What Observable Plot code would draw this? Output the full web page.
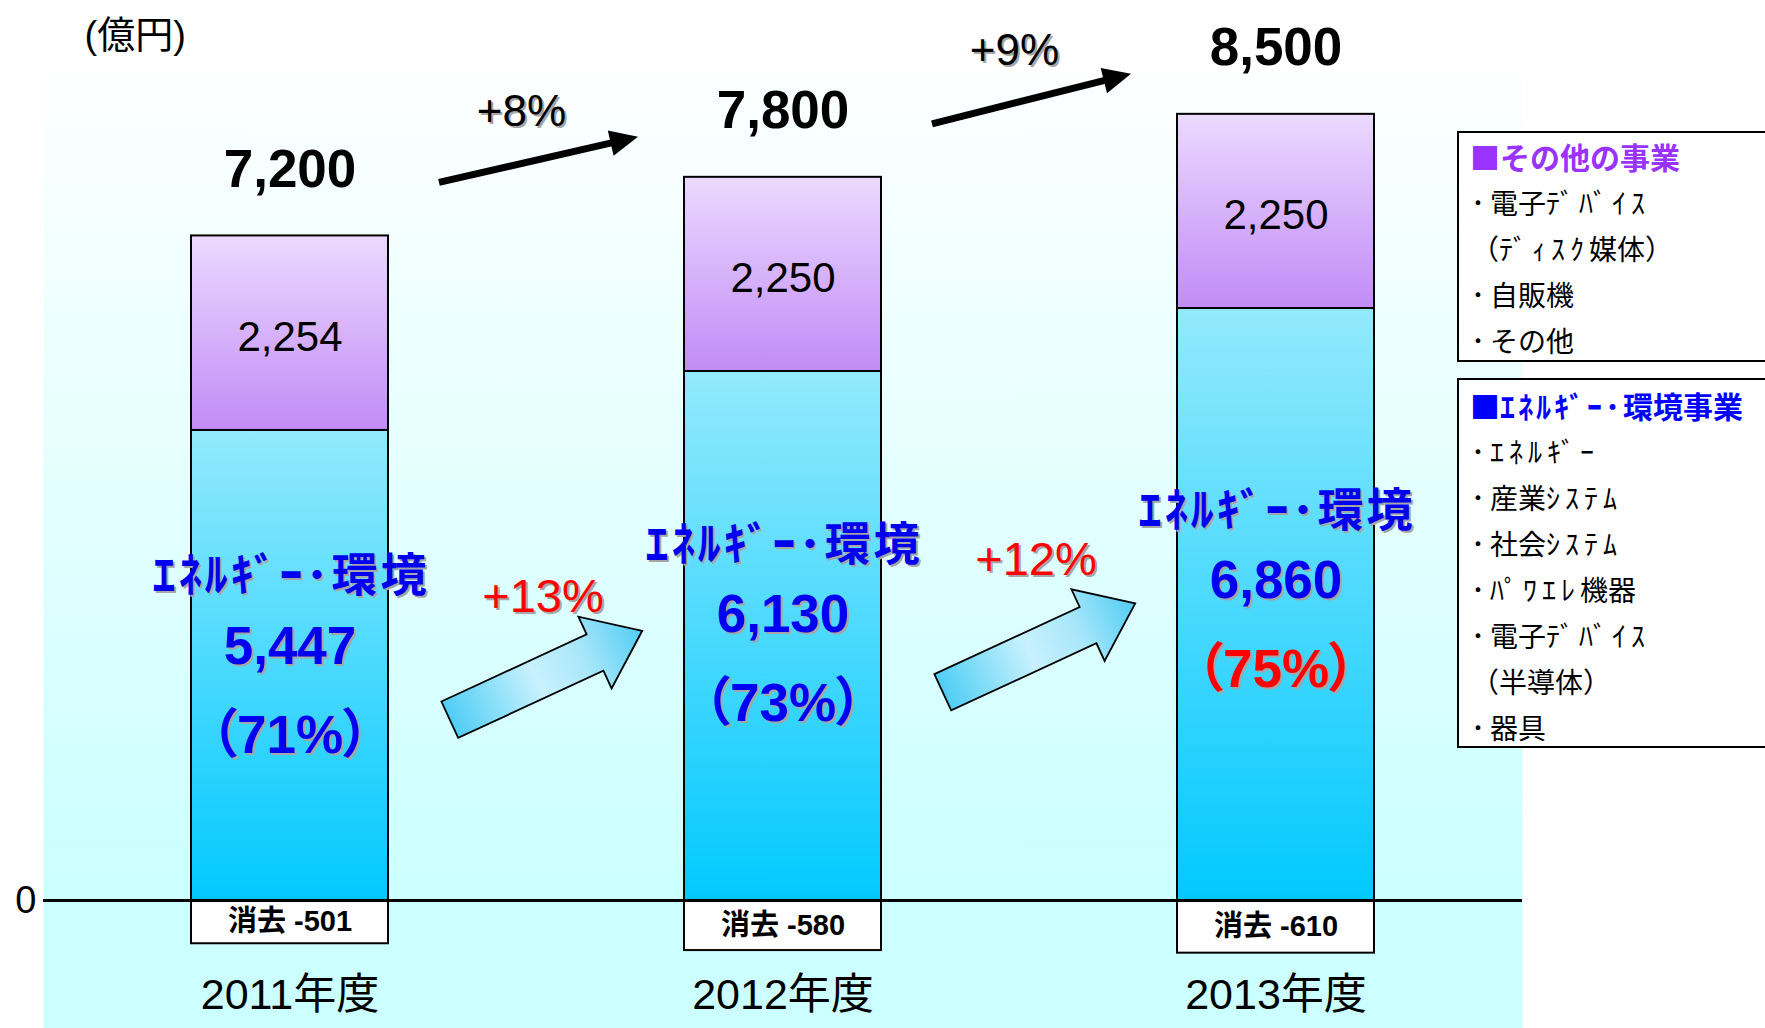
<!DOCTYPE html>
<html><head><meta charset="utf-8">
<script src="https://cdn.jsdelivr.net/npm/d3@7"></script>
<script src="https://cdn.jsdelivr.net/npm/@observablehq/plot@0.6"></script>
<style>
html,body{margin:0;padding:0;background:#fff;overflow:hidden;}
#wrap{position:relative;width:1765px;height:1028px;overflow:hidden;}
#wrap > svg{position:absolute;left:0;top:0;max-width:none;}
g[aria-description="pct"] text{font-feature-settings:"palt";}
g[aria-description="elabel"] text{letter-spacing:3px;}
.legend{position:absolute;left:1457px;width:340px;border:2px solid #000;background:#fff;box-sizing:border-box;font-family:'Noto Sans CJK JP',sans-serif;overflow:hidden;}
.legend div{line-height:46px;height:46px;white-space:nowrap;}
.legend .hd{font-weight:700;font-size:30px;padding-left:11px;}
.legend .hd .hw{letter-spacing:3px;}
.legend .it{font-size:28px;padding-left:12px;color:#000;}
.legend .it .hw{letter-spacing:5px;}
</style></head>
<body>
<svg width="0" height="0" style="position:absolute;left:0;top:0">
<defs>
<linearGradient id="bgGrad" x1="0" y1="0" x2="0" y2="1"><stop offset="0" stop-color="#fdffff"/><stop offset="0.85" stop-color="#ccffff"/><stop offset="1" stop-color="#ccffff"/></linearGradient>
<linearGradient id="blueGrad" x1="0" y1="0" x2="0" y2="1"><stop offset="0" stop-color="#93e9fc"/><stop offset="1" stop-color="#02c9ff"/></linearGradient>
<linearGradient id="purpleGrad" x1="0" y1="0" x2="0" y2="1"><stop offset="0" stop-color="#ebdaff"/><stop offset="1" stop-color="#c28bf6"/></linearGradient>
<linearGradient id="arrowGrad" x1="0" y1="0" x2="1" y2="0"><stop offset="0" stop-color="#4fcdf4"/><stop offset="0.45" stop-color="#c8f1fd"/><stop offset="0.7" stop-color="#a8e6fa"/><stop offset="1" stop-color="#4fcdf4"/></linearGradient>
</defs></svg>
<div id="wrap"></div>
<script>
// ---- data ----
const years = ["2011年度", "2012年度", "2013年度"];
const energyEnv = [5447, 6130, 6860];
const otherBiz = [2254, 2250, 2250];
const elimination = [-501, -580, -610];
const totals = [7200, 7800, 8500];
const energyShare = [71, 73, 75];
const totalGrowth = ["+8%", "+9%"];
const energyGrowth = ["+13%", "+12%"];
const unitLabel = "(億円)";
const energyLabel = "ｴﾈﾙｷﾞｰ･環境";
const elimLabel = "消去";
const highlightYear = "2013年度";
const otherHeader = "■その他の事業";
const otherItems = ["･電子ﾃﾞﾊﾞｲｽ", "（ﾃﾞｨｽｸ媒体）", "･自販機", "･その他"];
const energyHeader = "■ｴﾈﾙｷﾞｰ･環境事業";
const energyItems = ["･ｴﾈﾙｷﾞｰ", "･産業ｼｽﾃﾑ", "･社会ｼｽﾃﾑ", "･ﾊﾟﾜｴﾚ機器", "･電子ﾃﾞﾊﾞｲｽ", "（半導体）", "･器具"];

const FONT = "'Liberation Sans', Arial, 'Noto Sans CJK JP', sans-serif";
const BLUE = "#0000f0", RED = "#ff0000", SHADOW = "#a6a6a6";
const fmt = d3.format(",");

const rows = years.map((year, i) => ({
  year, energy: energyEnv[i], other: otherBiz[i], elim: elimination[i],
  total: totals[i], share: energyShare[i]
}));

function shadowText(data, opts) {
  return [
    Plot.text(data, {...opts, fill: SHADOW, dx: (opts.dx || 0) + 2, dy: (opts.dy || 0) + 2}),
    Plot.text(data, opts)
  ];
}

function addText(g, x, y, str, {size, weight = "normal", fill = "#000", shadow = false}) {
  const mk = (dx, color) => g.append("text")
    .attr("x", x + dx).attr("y", y + dx).attr("dy", "0.35em")
    .attr("text-anchor", "middle").attr("font-family", FONT)
    .attr("font-size", size).attr("font-weight", weight).attr("fill", color).text(str);
  if (shadow) mk(2, SHADOW);
  mk(0, fill);
}

function growthMark(index, scales) {
  const x = scales.x, y = scales.y;
  const bw = typeof x.bandwidth === "function" ? x.bandwidth() : (+x.bandwidth || 0);
  const g = d3.create("svg:g");
  for (let i = 0; i < rows.length - 1; i++) {
    const a = rows[i], b = rows[i + 1];
    const xa = x(a.year), xb = x(b.year);
    // thin black arrow between totals
    const sx = xa + bw + 51, sy = y(a.energy + a.other) - 53;
    const ex = xb - 46, ey = y(b.energy + b.other) - 40;
    const ang = Math.atan2(ey - sy, ex - sx);
    const ux = Math.cos(ang), uy = Math.sin(ang);
    const hl = 28, hw = 13;
    const bx = ex - ux * hl, by = ey - uy * hl;
    g.append("line").attr("x1", sx).attr("y1", sy).attr("x2", bx + ux * 3).attr("y2", by + uy * 3)
      .attr("stroke", "#000").attr("stroke-width", 7);
    g.append("path").attr("d", `M${ex},${ey}L${bx - uy * hw},${by + ux * hw}L${bx + uy * hw},${by - ux * hw}Z`)
      .attr("fill", "#000");
    addText(g, (sx + ex) / 2 - 17, (sy + ey) / 2 - 49, totalGrowth[i], {size: 44, shadow: true});
    // block arrow for energy segment
    const mid = (xa + xb) / 2 + bw / 2;
    const meanE = (a.energy + b.energy) / 2;
    const cx = mid + 10, cy = y(0.45 * meanE);
    g.append("path")
      .attr("d", "M-106,-20L54,-20L54,-39.5L106,0L54,39.5L54,20L-106,20Z")
      .attr("transform", `translate(${cx},${cy}) rotate(-24.8)`)
      .attr("fill", "url(#arrowGrad)").attr("stroke", "#000").attr("stroke-width", 1.8)
      .attr("stroke-linejoin", "miter");
    addText(g, mid + 7, y(0.61 * meanE), energyGrowth[i], {size: 47, fill: RED, shadow: true});
  }
  return g.node();
}

const chart = Plot.plot({
  width: 1765, height: 1028,
  marginLeft: 43, marginRight: 243, marginTop: 75, marginBottom: 0,
  x: {domain: years, paddingInner: 0.6, paddingOuter: 0.3, axis: null},
  y: {domain: [-1483, 9560], axis: null},
  style: {background: "transparent", fontFamily: FONT, overflow: "visible"},
  marks: [
    Plot.frame({fill: "url(#bgGrad)", stroke: "none"}),
    Plot.barY(rows, {x: "year", y1: 0, y2: "energy", fill: "url(#blueGrad)", stroke: "#000", strokeWidth: 2}),
    Plot.barY(rows, {x: "year", y1: "energy", y2: d => d.energy + d.other, fill: "url(#purpleGrad)", stroke: "#000", strokeWidth: 2}),
    Plot.barY(rows, {x: "year", y1: 0, y2: "elim", fill: "#ffffff", stroke: "#000", strokeWidth: 2}),
    Plot.ruleY([0], {stroke: "#000", strokeWidth: 3}),
    growthMark,
    // totals above bars
    Plot.text(rows, {x: "year", y: d => d.energy + d.other, text: d => fmt(d.total), dy: -66,
      fontSize: 53, fontWeight: "bold", fill: "#000"}),
    // other business values
    Plot.text(rows, {x: "year", y: d => d.energy + d.other / 2, text: d => fmt(d.other), dy: 4,
      fontSize: 42, fill: "#000"}),
    // energy segment labels
    ...shadowText(rows, {x: "year", y: d => d.energy * 0.54, text: () => energyLabel, dx: 1, dy: -70,
      fontSize: 46, fontWeight: "bold", fill: BLUE, ariaDescription: "elabel"}),
    ...shadowText(rows, {x: "year", y: d => d.energy * 0.54, text: d => fmt(d.energy), dy: 0,
      fontSize: 53, fontWeight: "bold", fill: BLUE}),
    ...shadowText(rows.filter(d => d.year !== highlightYear), {x: "year", y: d => d.energy * 0.54,
      text: d => `（${d.share}%）`, dy: 89, fontSize: 53, fontWeight: "bold", fill: BLUE, ariaDescription: "pct"}),
    ...shadowText(rows.filter(d => d.year === highlightYear), {x: "year", y: d => d.energy * 0.54,
      text: d => `（${d.share}%）`, dy: 89, fontSize: 53, fontWeight: "bold", fill: RED, ariaDescription: "pct"}),
    // elimination labels
    Plot.text(rows, {x: "year", y: d => d.elim / 2, text: d => `${elimLabel} ${d.elim}`,
      fontSize: 29, fontWeight: "bold", fill: "#000"}),
    // year labels
    Plot.text(rows, {x: "year", frameAnchor: "bottom", lineAnchor: "middle", dy: -33, text: d => d.year, fontSize: 43, fill: "#000"}),
    // zero tick and unit
    Plot.text([0], {y: d => d, frameAnchor: "left", text: d => String(d), textAnchor: "end", dx: -7, fontSize: 38, fill: "#000"}),
    Plot.text([unitLabel], {frameAnchor: "top-left", lineAnchor: "middle", text: d => d, textAnchor: "start", dx: 41, dy: -40, fontSize: 38, fill: "#000"})
  ]
});
const wrap = document.getElementById("wrap");
wrap.appendChild(chart);

// wrap half-width katakana runs in spans so they can be spaced like the original
function fillRuns(el, str) {
  const re = /([\uFF61-\uFF9F]+)|([^\uFF61-\uFF9F]+)/g;
  let m;
  while ((m = re.exec(str))) {
    if (m[1]) {
      const s = document.createElement("span");
      s.className = "hw"; s.textContent = m[1];
      el.appendChild(s);
    } else {
      el.appendChild(document.createTextNode(m[2]));
    }
  }
}

function legendBox(top, height, header, color, items) {
  const box = document.createElement("div");
  box.className = "legend";
  box.style.top = top + "px";
  box.style.height = height + "px";
  const hd = document.createElement("div");
  hd.className = "hd"; hd.style.color = color; fillRuns(hd, header);
  box.appendChild(hd);
  for (const it of items) {
    const d = document.createElement("div");
    d.className = "it"; fillRuns(d, it);
    box.appendChild(d);
  }
  wrap.appendChild(box);
  return box;
}
legendBox(131, 231, otherHeader, "#9933ff", otherItems).style.paddingTop = "0px";
legendBox(378, 370, energyHeader, "#0000ff", energyItems).style.paddingTop = "2px";
</script>
</body></html>
